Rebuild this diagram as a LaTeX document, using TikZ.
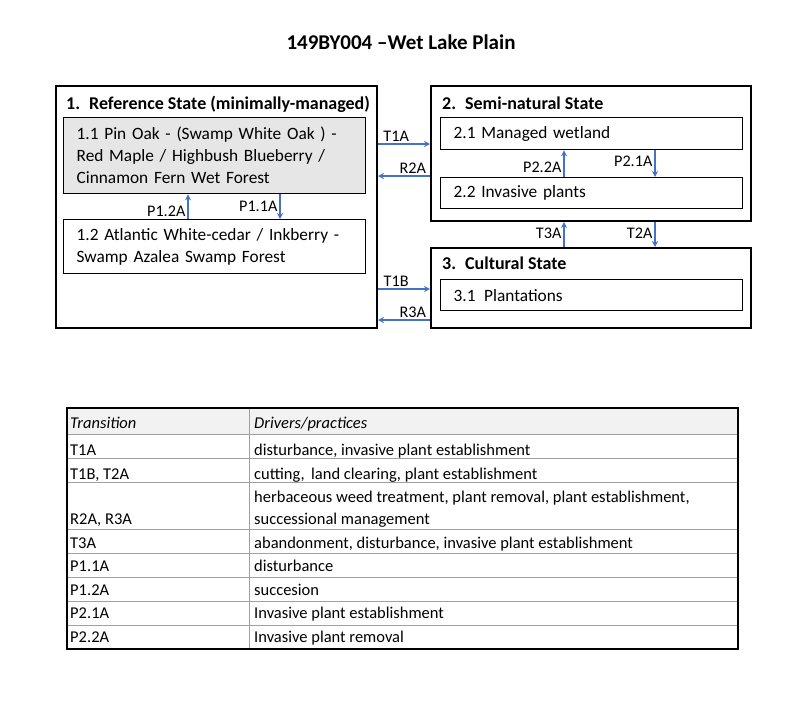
\documentclass[tikz,border=0pt]{standalone}
\usepackage{fontspec}
\setmainfont{Carlito}
\usetikzlibrary{arrows.meta}

\definecolor{flowblue}{HTML}{4472C4}
\definecolor{oakgray}{HTML}{E7E6E6}
\definecolor{headgray}{HTML}{F2F2F2}
\definecolor{rulegray}{HTML}{A0A0A0}

\tikzset{
  statebox/.style = {draw, line width=2pt, anchor=north west, inner sep=0pt},
  phasebox/.style = {draw, line width=1.3pt, anchor=north west, align=left,
    inner xsep=13pt, inner ysep=0pt, font=\fontsize{17.3}{22}\selectfont},
  statetitle/.style = {anchor=base west, inner sep=0pt, font=\fontsize{18}{20}\selectfont\bfseries},
  flow/.style = {draw=flowblue, line width=1.2pt, -{Stealth[length=6pt,width=6pt]}},
  flowlabel/.style = {font=\fontsize{16.2}{18}\selectfont, inner sep=2pt},
  cell/.style = {anchor=base west, inner sep=0pt, font=\fontsize{16.5}{22}\selectfont},
}

\begin{document}
\begin{tikzpicture}[x=1pt, y=-1pt]
    \useasboundingbox (0,0) rectangle (800,721);

    \node[font=\fontsize{21}{24}\selectfont\bfseries] (title) at (401,42) {149BY004 --Wet Lake Plain};

    % states
    \node[statebox, minimum width=321pt, minimum height=242pt] (refstate) at (55,85) {};
    \node[statebox, minimum width=320pt, minimum height=135pt] (semistate) at (430,85) {};
    \node[statebox, minimum width=320pt, minimum height=80pt] (cultstate) at (430,247) {};
    \node[statetitle] (reftitle) at (66,109) {1.\enspace Reference State (minimally-managed)};
    \node[statetitle] (semititle) at (442,109) {2.\enspace Semi-natural State};
    \node[statetitle] (culttitle) at (442,269) {3.\enspace Cultural State};

    % communities
    \node[phasebox, fill=oakgray, text width=276pt, minimum height=76pt] (pinoak) at (63,117)
      {1.1 Pin Oak - (Swamp White Oak ) -\\ Red Maple / Highbush Blueberry /\\ Cinnamon Fern Wet Forest};
    \node[phasebox, text width=276pt, minimum height=54pt] (cedar) at (63,219)
      {1.2 Atlantic White-cedar / Inkberry -\\ Swamp Azalea Swamp Forest};
    \node[phasebox, text width=276pt, minimum height=32pt] (wetland) at (440,117) {2.1 Managed wetland};
    \node[phasebox, text width=276pt, minimum height=31pt] (invasive) at (440,177) {2.2 Invasive plants};
    \node[phasebox, text width=276pt, minimum height=31pt] (plant) at (440,279) {3.1\enspace Plantations};

    % pathways
    \coordinate (p12) at (188,0);
    \coordinate (p11) at (280,0);
    \coordinate (p22) at (564,0);
    \coordinate (p21) at (655,0);
    \draw[flow] (cedar.north -| p12) -- node[flowlabel, left, pos=0.3] {P1.2A} (pinoak.south -| p12);
    \draw[flow] (pinoak.south -| p11) -- node[flowlabel, left, pos=0.5] {P1.1A} (cedar.north -| p11);
    \draw[flow] (invasive.north -| p22) -- node[flowlabel, left, pos=0.36] {P2.2A} (wetland.south -| p22);
    \draw[flow] (wetland.south -| p21) -- node[flowlabel, left, pos=0.43] {P2.1A} (invasive.north -| p21);
    \draw[flow] (cultstate.north -| p22) -- node[flowlabel, left, pos=0.55] {T3A} (semistate.south -| p22);
    \draw[flow] (semistate.south -| p21) -- node[flowlabel, left, pos=0.45] {T2A} (cultstate.north -| p21);

    % transitions
    \coordinate (t1a) at (0,144);
    \coordinate (r2a) at (0,176);
    \coordinate (t1b) at (0,289);
    \coordinate (r3a) at (0,320);
    \draw[flow] (refstate.east |- t1a) -- node[flowlabel, above, pos=0.35] {T1A} (semistate.west |- t1a);
    \draw[flow] (semistate.west |- r2a) -- node[flowlabel, above, pos=0.33] {R2A} (refstate.east |- r2a);
    \draw[flow] (refstate.east |- t1b) -- node[flowlabel, above, pos=0.35] {T1B} (cultstate.west |- t1b);
    \draw[flow] (cultstate.west |- r3a) -- node[flowlabel, above, pos=0.33] {R3A} (refstate.east |- r3a);

    % table
    \fill[headgray] (67,408) rectangle (738,434);
    \draw[rulegray, line width=0.9pt] (67,434) -- (738,434) (67,458) -- (738,458) (67,482) -- (738,482)
      (67,529) -- (738,529) (67,553) -- (738,553) (67,577) -- (738,577) (67,601) -- (738,601)
      (67,625) -- (738,625) (249,408) -- (249,649);
    \draw[line width=2pt] (67,408) rectangle (738,649);

    \node[cell, font=\fontsize{16.5}{22}\selectfont\itshape] (hdtrans) at (70,428) {Transition};
    \node[cell, font=\fontsize{16.5}{22}\selectfont\itshape] (hddrive) at (254,428) {Drivers/practices};
    \node[cell] (ta) at (70,455) {T1A};
    \node[cell] (tadrive) at (254,455) {disturbance, invasive plant establishment};
    \node[cell] (tb) at (70,479) {T1B, T2A};
    \node[cell] (tbdrive) at (254,479) {cutting,\, land clearing, plant establishment};
    \node[cell] (ra) at (70,524) {R2A, R3A};
    \node[cell] (radrive) at (254,502) {herbaceous weed treatment, plant removal, plant establishment,};
    \node[cell] (radrive2) at (254,524) {successional management};
    \node[cell] (tc) at (70,548) {T3A};
    \node[cell] (tcdrive) at (254,548) {abandonment, disturbance, invasive plant establishment};
    \node[cell] (pa) at (70,571) {P1.1A};
    \node[cell] (padrive) at (254,571) {disturbance};
    \node[cell] (pb) at (70,595) {P1.2A};
    \node[cell] (pbdrive) at (254,595) {succesion};
    \node[cell] (pc) at (70,618) {P2.1A};
    \node[cell] (pcdrive) at (254,618) {Invasive plant establishment};
    \node[cell] (pd) at (70,642) {P2.2A};
    \node[cell] (pddrive) at (254,642) {Invasive plant removal};
\end{tikzpicture}
\end{document}
